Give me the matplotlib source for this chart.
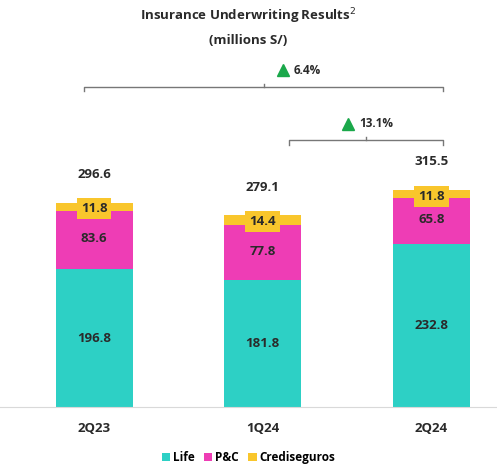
import matplotlib.pyplot as plt
import numpy as np

plt.rcParams['font.family'] = ['Open Sans', 'DejaVu Sans']

quarters = ['2Q23', '1Q24', '2Q24']
life = [196.8, 181.8, 232.8]
pc = [83.6, 77.8, 65.8]
crediseguros = [11.8, 14.4, 11.8]
totals = ['296.6', '279.1', '315.5']
growth_labels = ['6.4%', '13.1%']

c_life = '#2dd0c5'
c_pc = '#ee3db5'
c_cred = '#f9c62c'
txt = '#2a2a2a'

fig = plt.figure(figsize=(4.97, 4.68), dpi=100)
ax = fig.add_axes([0, 0.1303, 1, 0.7415])

x = np.arange(len(quarters))
w = 0.457
life = np.array(life)
pc = np.array(pc)
cred = np.array(crediseguros)

ax.bar(x, life, w, color=c_life, label='Life')
ax.bar(x, pc, w, bottom=life, color=c_pc, label='P&C')
ax.bar(x, cred, w, bottom=life + pc, color=c_cred, label='Crediseguros')

fs = 9.5
tops = life + pc + cred
for i in range(len(x)):
    ax.text(x[i], life[i] / 2, f'{life[i]:.1f}', ha='center', va='center',
            fontsize=fs, fontweight='bold', color=txt)
    ax.text(x[i], life[i] + pc[i] / 2 + 2, f'{pc[i]:.1f}', ha='center', va='center',
            fontsize=fs, fontweight='bold', color=txt)
    ax.text(x[i], tops[i] - 9, f'{cred[i]:.1f}', ha='center', va='center',
            fontsize=fs, fontweight='bold', color=txt,
            bbox=dict(boxstyle='square,pad=0.3', fc=c_cred, ec='none'))
    ax.text(x[i], tops[i] + 40, totals[i], ha='center', va='center',
            fontsize=fs, fontweight='bold', color=txt)

# growth brackets
def bracket(x0, x1, y, label, dx):
    ax.plot([x0, x0, x1, x1], [y - 6, y, y, y - 6], color='#777777', lw=1)
    xm = (x0 + x1) / 2
    ax.plot([xm, xm], [y, y + 5], color='#777777', lw=1)
    ax.plot(xm + dx, y + 24, marker='^', ms=8, color='#1aa84a', ls='none')
    ax.text(xm + dx + 0.065, y + 24, label, ha='left', va='center',
            fontsize=8.5, fontweight='bold', color=txt)

bracket(-0.06, 2.07, 457, growth_labels[0], 0.113)
bracket(1.157, 2.07, 381, growth_labels[1], -0.107)

ax.set_xlim(-0.558, 2.39)
ax.set_ylim(0, 496)
ax.set_xticks(x)
ax.set_xticklabels(quarters, fontsize=fs, fontweight='bold', color=txt)
ax.tick_params(axis='x', length=0, pad=11)
ax.set_yticks([])
for s in ['top', 'right', 'left']:
    ax.spines[s].set_visible(False)
ax.spines['bottom'].set_color('#d9d9d9')

fig.text(0.5, 0.965, 'Insurance Underwriting Results$^{2}$', ha='center', va='center',
         fontsize=9.5, fontweight='bold', color=txt)
fig.text(0.5, 0.913, '(millions S/)', ha='center', va='center',
         fontsize=9.5, fontweight='bold', color=txt)

fig.legend(loc='center', bbox_to_anchor=(0.5, 0.022), ncol=3, frameon=False,
           handlelength=0.7, handleheight=0.7, handletextpad=0.25, columnspacing=0.8,
           prop={'size': 8.5, 'weight': 'bold'})

fig.savefig('out.png', dpi=100)
